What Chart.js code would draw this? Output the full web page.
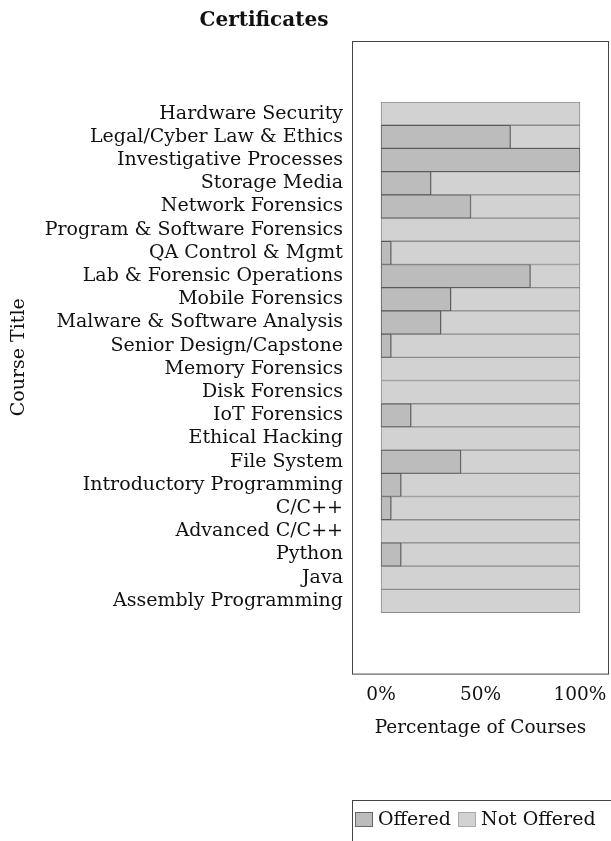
<!DOCTYPE html>
<html lang="en">
<head>
  <meta charset="UTF-8">
  <title>Certificates</title>
  <script src="https://cdn.jsdelivr.net/npm/chart.js"></script>
  <style>
    body { margin: 0; background: #fff; }
    #chart { display: block; }
  </style>
</head>
<body>
  <canvas id="chart" width="611" height="841"></canvas>
  <script>
    // course names, top to bottom
    const courses = [
      "Hardware Security", "Legal/Cyber Law & Ethics", "Investigative Processes",
      "Storage Media", "Network Forensics", "Program & Software Forensics",
      "QA Control & Mgmt", "Lab & Forensic Operations", "Mobile Forensics",
      "Malware & Software Analysis", "Senior Design/Capstone", "Memory Forensics",
      "Disk Forensics", "IoT Forensics", "Ethical Hacking", "File System",
      "Introductory Programming", "C/C++", "Advanced C/C++", "Python", "Java",
      "Assembly Programming"
    ];
    // percent of courses offering a certificate
    const offered = [0, 65, 100, 25, 45, 0, 5, 75, 35, 30, 5, 0, 0, 15, 0, 40, 10, 5, 0, 10, 0, 0];
    const notOffered = offered.map(v => 100 - v);
    const xTicks = [0, 50, 100];

    const serif = "DejaVu Serif";

    // frame round the plot, the title and a boxed legend
    const frame = {
      id: "frame",
      afterDraw(chart) {
        const ctx = chart.ctx;
        const a = chart.chartArea;
        ctx.save();
        ctx.strokeStyle = "#444";
        ctx.lineWidth = 1;
        ctx.strokeRect(a.left + 0.5, a.top + 0.5, a.right - a.left - 1, a.bottom - a.top);

        ctx.fillStyle = "#111";
        ctx.font = "bold 20px '" + serif + "'";
        ctx.textAlign = "center";
        ctx.textBaseline = "middle";
        ctx.fillText("Certificates", 264, 21);

        // legend
        ctx.strokeStyle = "#444";
        ctx.strokeRect(352.5, 800.5, 262, 50);
        ctx.font = "19px '" + serif + "'";
        ctx.textAlign = "left";
        const items = [
          { x: 355, text: "Offered", fill: "#bcbcbc", line: "#666" },
          { x: 458, text: "Not Offered", fill: "#d2d2d2", line: "#aaa" }
        ];
        items.forEach(it => {
          ctx.fillStyle = it.fill;
          ctx.fillRect(it.x, 812, 18, 15);
          ctx.strokeStyle = it.line;
          ctx.strokeRect(it.x + 0.5, 812.5, 17, 14);
          ctx.fillStyle = "#111";
          ctx.fillText(it.text, it.x + 23, 820);
        });
        ctx.restore();
      }
    };

    new Chart(document.getElementById("chart"), {
      type: "bar",
      plugins: [frame],
      data: {
        labels: courses,
        datasets: [{
          label: "Offered",
          data: offered.map((v, i) => ({ x: v, y: i })),
          backgroundColor: "#bcbcbc",
          borderColor: "#5a5a5a",
          borderWidth: 1,
          borderSkipped: false,
          barPercentage: 1,
          categoryPercentage: 1
        }, {
          label: "Not Offered",
          data: notOffered.map((v, i) => ({ x: v, y: i })),
          backgroundColor: "#d2d2d2",
          borderColor: "#8c8c8c",
          borderWidth: 1,
          borderSkipped: false,
          barPercentage: 1,
          categoryPercentage: 1
        }]
      },
      options: {
        indexAxis: "y",
        responsive: false,
        animation: false,
        layout: { padding: { left: 8, right: 2, top: 41, bottom: 102 } },
        plugins: {
          legend: { display: false },
          title: { display: false },
          tooltip: { enabled: false }
        },
        scales: {
          x: {
            stacked: true,
            min: -14.6,
            max: 114.6,
            afterBuildTicks: s => { s.ticks = xTicks.map(v => ({ value: v })); },
            afterFit: s => { s.paddingLeft = 0; s.paddingRight = 0; },
            grid: { display: false },
            border: { display: false },
            ticks: {
              color: "#111",
              padding: 2,
              font: { family: serif, size: 18.5 },
              callback: v => v + "%"
            },
            title: {
              display: true,
              text: "Percentage of Courses",
              color: "#111",
              font: { family: serif, size: 18.5 },
              padding: { top: 9, bottom: 0 }
            }
          },
          y: {
            type: "linear",
            stacked: true,
            reverse: true,
            offset: false,
            min: -3.13,
            max: 24.13,
            afterBuildTicks: s => { s.ticks = courses.map((c, i) => ({ value: i })); },
            afterFit: s => { s.width = 344; },
            grid: { display: false, offset: false },
            border: { display: false },
            ticks: {
              color: "#111",
              padding: 1,
              autoSkip: false,
              font: { family: serif, size: 19 },
              callback: v => courses[v]
            },
            title: {
              display: true,
              text: "Course Title",
              color: "#111",
              font: { family: serif, size: 19 },
              padding: { top: 0, bottom: 0 }
            }
          }
        }
      }
    });
  </script>
</body>
</html>
